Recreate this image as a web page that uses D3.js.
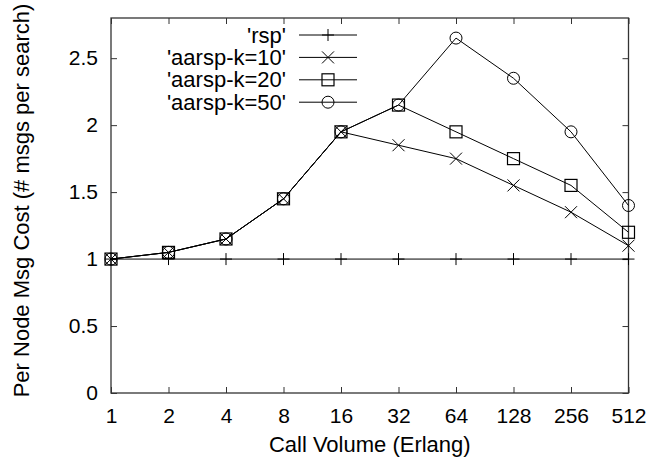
<!DOCTYPE html>
<html>
<head>
<meta charset="utf-8">
<script src="https://cdn.jsdelivr.net/npm/d3@7"></script>
<style>
  body { margin: 0; background: #fff; }
  text { font-family: "Liberation Sans", Arial, sans-serif; fill: #000; }
</style>
</head>
<body>
<script>
'use strict';
const volumes = [1, 2, 4, 8, 16, 32, 64, 128, 256, 512];
const rsp     = [1, 1, 1, 1, 1, 1, 1, 1, 1, 1];
const k10     = [1, 1.05, 1.15, 1.45, 1.95, 1.85, 1.75, 1.55, 1.35, 1.1];
const k20     = [1, 1.05, 1.15, 1.45, 1.95, 2.15, 1.95, 1.75, 1.55, 1.2];
const k50     = [1, 1.05, 1.15, 1.45, 1.95, 2.15, 2.65, 2.35, 1.95, 1.4];
const seriesNames = ["'rsp'", "'aarsp-k=10'", "'aarsp-k=20'", "'aarsp-k=50'"];
const markers = ['plus', 'cross', 'square', 'circle'];
const yTicks = [0, 0.5, 1, 1.5, 2, 2.5];

(function() {
    let scales = { left: 111, right: 628.5, top: 18, bottom: 393 };
    let svg = d3.select('body').append('svg')
                .attr('width', 652)
                .attr('height', 460);

    let x = d3.scaleLog().base(2)
              .domain([1, 512])
              .range([scales.left, scales.right]);
    let y = d3.scaleLinear()
              .domain([0, 2.8])
              .range([scales.bottom, scales.top]);

    let axisColor = '#333';
    let tickLen = 6;

    // border
    svg.append('rect')
       .attr('x', scales.left).attr('y', scales.top)
       .attr('width', scales.right - scales.left)
       .attr('height', scales.bottom - scales.top)
       .attr('fill', 'none').attr('stroke', axisColor).attr('stroke-width', 1.3);

    // ticks point inward on all four sides, like gnuplot's mirrored ticks
    let bottomAxis = svg.append('g')
        .attr('transform', 'translate(0,' + scales.bottom + ')')
        .call(d3.axisBottom(x).tickValues(volumes).tickFormat(d3.format('d'))
              .tickSizeInner(-tickLen).tickSizeOuter(0).tickPadding(15));
    let topAxis = svg.append('g')
        .attr('transform', 'translate(0,' + scales.top + ')')
        .call(d3.axisTop(x).tickValues(volumes).tickFormat('')
              .tickSizeInner(-tickLen).tickSizeOuter(0));
    let leftAxis = svg.append('g')
        .attr('transform', 'translate(' + scales.left + ',0)')
        .call(d3.axisLeft(y).tickValues(yTicks).tickFormat(d3.format('~g'))
              .tickSizeInner(-tickLen).tickSizeOuter(0).tickPadding(13));
    let rightAxis = svg.append('g')
        .attr('transform', 'translate(' + scales.right + ',0)')
        .call(d3.axisRight(y).tickValues(yTicks).tickFormat('')
              .tickSizeInner(-tickLen).tickSizeOuter(0));
    [bottomAxis, topAxis, leftAxis, rightAxis].forEach((g) => {
        g.select('.domain').remove();
        g.selectAll('line').attr('stroke', axisColor).attr('stroke-width', 1);
        g.selectAll('text').style('font-size', '21px')
         .attr('font-family', '"Liberation Sans", Arial, sans-serif').attr('fill', '#000');
    });

    // axis titles
    svg.append('text')
       .attr('x', (scales.left + scales.right) / 2)
       .attr('y', 452)
       .attr('text-anchor', 'middle')
       .style('font-size', '22px')
       .text('Call Volume (Erlang)');
    svg.append('text')
       .attr('transform', 'translate(29,' + ((scales.top + scales.bottom) / 2 - 5) + ') rotate(-90)')
       .attr('text-anchor', 'middle')
       .style('font-size', '22px')
       .text('Per Node Msg Cost (# msgs per search)');

    function drawMarker(g, type, cx, cy) {
        let s = 6;
        if (type === 'plus') {
            g.append('path').attr('d', `M${cx - s},${cy}H${cx + s}M${cx},${cy - s}V${cy + s}`)
             .attr('stroke', '#000').attr('stroke-width', 1);
        } else if (type === 'cross') {
            g.append('path').attr('d', `M${cx - s},${cy - s}L${cx + s},${cy + s}M${cx - s},${cy + s}L${cx + s},${cy - s}`)
             .attr('stroke', '#000').attr('stroke-width', 1);
        } else if (type === 'square') {
            g.append('rect').attr('x', cx - s).attr('y', cy - s)
             .attr('width', 2 * s).attr('height', 2 * s)
             .attr('fill', 'none').attr('stroke', '#000').attr('stroke-width', 1.2);
        } else {
            g.append('circle').attr('cx', cx).attr('cy', cy).attr('r', s)
             .attr('fill', 'none').attr('stroke', '#000').attr('stroke-width', 1);
        }
    }

    let allSeries = [rsp, k10, k20, k50];
    let line = d3.line()
                 .x((d, i) => x(volumes[i]))
                 .y((d) => y(d));

    allSeries.forEach((vals, si) => {
        let g = svg.append('g');
        g.append('path')
         .datum(vals)
         .attr('fill', 'none')
         .attr('stroke', '#000')
         .attr('stroke-width', 1)
         .attr('d', line);
        vals.forEach((v, i) => drawMarker(g, markers[si], x(volumes[i]), y(v)));
    });

    // legend
    let legend = svg.append('g');
    seriesNames.forEach((name, i) => {
        let ly = 35 + i * 22.4;
        legend.append('text')
              .attr('x', 286).attr('y', ly + 7.5)
              .attr('text-anchor', 'end')
              .style('font-size', '22px')
              .text(name);
        legend.append('line')
              .attr('x1', 299).attr('x2', 357)
              .attr('y1', ly).attr('y2', ly)
              .attr('stroke', '#000').attr('stroke-width', 1);
        drawMarker(legend, markers[i], 328, ly);
    });
})();
</script>
</body>
</html>
